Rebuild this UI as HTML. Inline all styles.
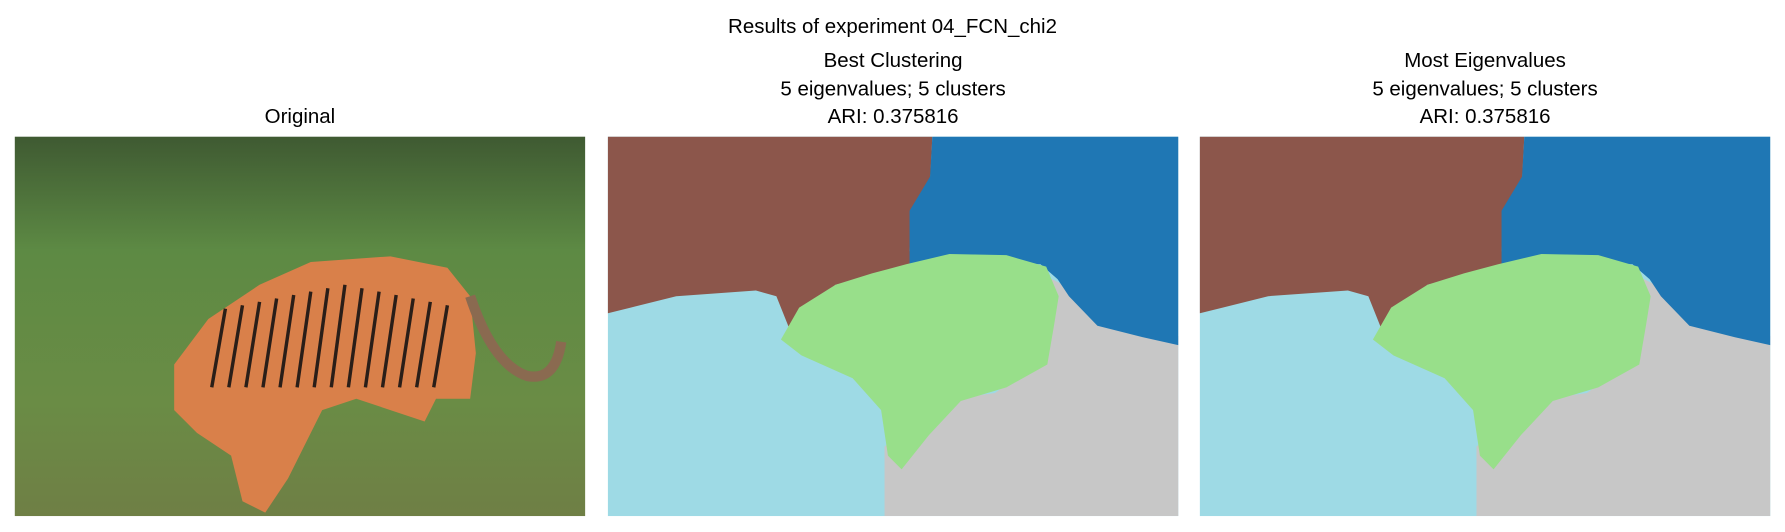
<!DOCTYPE html>
<html><head><meta charset="utf-8"><style>
html,body{margin:0;padding:0;background:#fff;}
svg{display:block;font-family:"Liberation Sans","DejaVu Sans",sans-serif;}
</style></head><body>
<svg id="fig" width="1785" height="532" viewBox="0 0 1568 467" preserveAspectRatio="none" xmlns="http://www.w3.org/2000/svg">
<defs>
<linearGradient id="grass" x1="0" y1="0" x2="0" y2="1">
<stop offset="0" stop-color="#3f5a32"/><stop offset="0.3" stop-color="#5d8a44"/><stop offset="0.7" stop-color="#6a8c45"/><stop offset="1" stop-color="#6f7f45"/>
</linearGradient>
</defs>
<rect width="1568" height="467" fill="#fff"/>
<text x="784" y="29" font-size="18" text-anchor="middle">Results of experiment 04_FCN_chi2</text>
<g>
<text x="263.5" y="108" font-size="18" text-anchor="middle">Original</text>
<g id="tiger" transform="translate(13,120)"></g>
</g>
<g>
<text x="784.5" y="59" font-size="18" text-anchor="middle">Best Clustering</text>
<text x="784.5" y="84" font-size="18" text-anchor="middle">5 eigenvalues; 5 clusters</text>
<text x="784.5" y="108" font-size="18" text-anchor="middle">ARI: 0.375816</text>
<g id="p2" transform="translate(534,120)"></g>
</g>
<g>
<text x="1304.5" y="59" font-size="18" text-anchor="middle">Most Eigenvalues</text>
<text x="1304.5" y="84" font-size="18" text-anchor="middle">5 eigenvalues; 5 clusters</text>
<text x="1304.5" y="108" font-size="18" text-anchor="middle">ARI: 0.375816</text>
<g id="p3" transform="translate(1054,120)"></g>
</g>
</svg>
<script>
const clusterNames = ['lightblue','gray','brown','blue','green'];
const clusterColors = ['#9edae5','#c7c7c7','#8c564b','#1f77b4','#98df8a'];
const regionGray = [[380,120],[420,140],[440,165],[470,175],[501,175],[501,333],[243,333],[243,272],[290,232],[340,225],[375,200],[380,140]];
const regionBrown = [[0,0],[285,0],[283,40],[268,70],[265,100],[270,115],[240,120],[200,130],[175,150],[160,170],[148,140],[130,135],[60,140],[20,150],[0,155]];
const regionBlue = [[285,0],[501,0],[501,183],[470,176],[430,166],[405,140],[395,125],[380,112],[330,110],[290,112],[265,112],[265,65],[283,35]];
const regionGreen = [[262,112],[300,103],[350,104],[385,114],[396,140],[392,165],[386,200],[350,220],[310,232],[282,262],[258,292],[246,280],[240,240],[215,212],[170,192],[152,178],[168,150],[200,130],[232,120]];
const NS='http://www.w3.org/2000/svg';
function poly(g,pts,fill,name){
  const p=document.createElementNS(NS,'polygon');
  p.setAttribute('points',pts.map(a=>a.join(',')).join(' '));
  p.setAttribute('fill',fill);
  
  
  g.appendChild(p);
}
function panel(id){
  const g=document.getElementById(id);
  const r=document.createElementNS(NS,'rect');
  r.setAttribute('width',501);r.setAttribute('height',333);r.setAttribute('fill',clusterColors[0]);
  
  
  g.appendChild(r);
  poly(g,regionGray,clusterColors[1],'cluster-gray');
  poly(g,regionBrown,clusterColors[2],'cluster-brown');
  poly(g,regionBlue,clusterColors[3],'cluster-blue');
  poly(g,regionGreen,clusterColors[4],'cluster-green');
}
panel('p2');panel('p3');
const tigerBody=[[140,200],[170,160],[215,130],[260,110],[330,105],[380,115],[400,140],[405,190],[400,230],[370,230],[360,250],[300,230],[270,240],[240,300],[220,330],[200,320],[190,280],[160,260],[140,240]];
const tg=document.getElementById('tiger');
const bg=document.createElementNS(NS,'rect');
bg.setAttribute('width',501);bg.setAttribute('height',333);bg.setAttribute('fill','url(#grass)');


tg.appendChild(bg);
poly(tg,tigerBody,'#d9804a','tiger-body');
const tail=document.createElementNS(NS,'path');
tail.setAttribute('d','M400 140 Q420 200 450 210 Q475 215 480 180');
tail.setAttribute('stroke','#8a6a50');tail.setAttribute('stroke-width','9');tail.setAttribute('fill','none');


tg.appendChild(tail);
for(let i=0;i<14;i++){
  const s=document.createElementNS(NS,'line');
  const x=185+i*15;
  s.setAttribute('x1',x);s.setAttribute('y1',130+Math.abs(i-7)*3);
  s.setAttribute('x2',x-12);s.setAttribute('y2',220);
  s.setAttribute('stroke','#2a1e18');s.setAttribute('stroke-width','3');
  
  
  tg.appendChild(s);
}
</script>
</body></html>
